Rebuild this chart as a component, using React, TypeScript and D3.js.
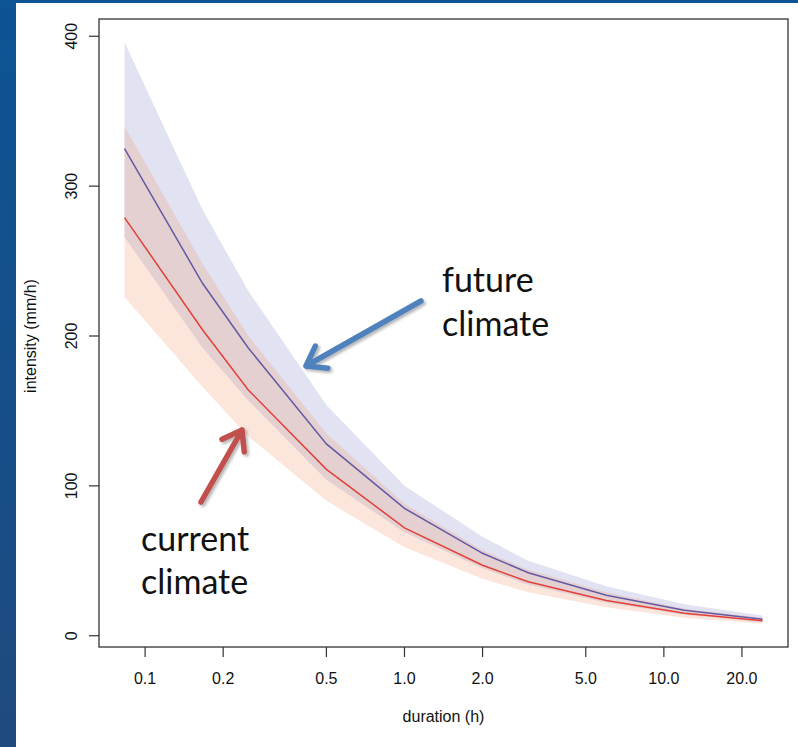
import React from 'react';
import * as d3 from 'd3';

// durations in hours (5 min ... 24 h)
const durations = [0.0833, 0.1667, 0.25, 0.5, 1, 2, 3, 6, 12, 24];

// future climate (blue)
const futureMean = [325, 235, 192, 128, 85, 55, 42, 27, 17, 11];
const futureUpper = [396, 284, 230, 154, 100, 66, 50, 33, 21, 13.5];
const futureLower = [266, 192, 157, 104, 69, 45, 34, 22, 14, 9];

// current climate (red)
const currentMean = [279, 204, 164, 111, 72, 47, 36, 23.5, 15, 10];
const currentUpper = [340, 248, 200, 135, 88, 57, 44, 29, 18, 12];
const currentLower = [226, 166, 133, 90, 59, 38, 29, 19, 12, 8];

const xTicks = [0.1, 0.2, 0.5, 1, 2, 5, 10, 20];
const xTickLabels = ['0.1', '0.2', '0.5', '1.0', '2.0', '5.0', '10.0', '20.0'];
const yTicks = [0, 100, 200, 300, 400];

const W = 798, H = 747;
const box = {left: 99, right: 788, top: 19, bottom: 647};
const axisFont = '"Liberation Sans", Arial, sans-serif';
const noteFont = 'Lato, "Open Sans", sans-serif';

// R style 4% padding on both axes
const logExt = d3.extent(durations.map(Math.log10)) as [number, number];
const lpad = (logExt[1] - logExt[0]) * 0.04;
const x = d3.scaleLog()
  .domain([Math.pow(10, logExt[0] - lpad), Math.pow(10, logExt[1] + lpad)])
  .range([box.left, box.right]);

const yMin = d3.min(currentLower.concat(futureLower)) as number;
const yMax = d3.max(futureUpper.concat(currentUpper)) as number;
const ypad = (yMax - yMin) * 0.04;
const y = d3.scaleLinear()
  .domain([yMin - ypad, yMax + ypad])
  .range([box.bottom, box.top]);

const band = (lo: number[], hi: number[]) =>
  d3.area<number>()
    .x((d, i) => x(durations[i]))
    .y0((d, i) => y(lo[i]))
    .y1((d, i) => y(hi[i]))(durations) as string;

const line = (vals: number[]) =>
  d3.line<number>()
    .x((d, i) => x(durations[i]))
    .y((d) => y(d))(vals) as string;

// open arrow drawn from tail to tip
function Arrow({x1, y1, x2, y2, color}: {x1: number, y1: number, x2: number, y2: number, color: string}) {
  const ang = Math.atan2(y2 - y1, x2 - x1);
  const len = 22, spread = 0.62;
  const b1 = [x2 - len * Math.cos(ang - spread), y2 - len * Math.sin(ang - spread)];
  const b2 = [x2 - len * Math.cos(ang + spread), y2 - len * Math.sin(ang + spread)];
  return (
    <g stroke={color} strokeWidth={5.5} strokeLinecap="round" strokeLinejoin="round" fill="none" filter="url(#shadow)">
      <path d={`M${x1},${y1}L${x2},${y2}M${b1[0]},${b1[1]}L${x2},${y2}L${b2[0]},${b2[1]}`} />
    </g>
  );
}

export default function App() {
  return (
    <svg width={W} height={H} style={{position: 'fixed', left: 0, top: 0}}>
      <defs>
        <linearGradient id="bg" x1="0" y1="0" x2="0" y2="1">
          <stop offset="0" stopColor="#0d5494" />
          <stop offset="1" stopColor="#1f4a7f" />
        </linearGradient>
        <filter id="shadow" x="-20%" y="-20%" width="140%" height="140%">
          <feDropShadow dx="2" dy="2" stdDeviation="1.8" floodColor="#000" floodOpacity="0.3" />
        </filter>
      </defs>
      <rect width={W} height={H} fill="url(#bg)" />
      <rect x={16} y={3} width={W - 16} height={H - 3} fill="#fff" />

      <path d={band(futureLower, futureUpper)} fill="#e1e3f2" />
      <path d={band(currentLower, currentUpper)} fill="rgb(243,150,110)" fillOpacity={0.25} />
      <path d={line(futureMean)} fill="none" stroke="#6459a6" strokeWidth={1.5} />
      <path d={line(currentMean)} fill="none" stroke="#e3403a" strokeWidth={1.5} />

      <rect x={box.left} y={box.top} width={box.right - box.left} height={box.bottom - box.top}
        fill="none" stroke="#333" strokeWidth={1.3} />

      {xTicks.map((t, i) => (
        <g key={t}>
          <line x1={x(t)} x2={x(t)} y1={box.bottom} y2={box.bottom + 10} stroke="#333" strokeWidth={1.2} />
          <text x={x(t)} y={box.bottom + 37} textAnchor="middle" fontFamily={axisFont} fontSize={16} fill="#111">{xTickLabels[i]}</text>
        </g>
      ))}
      {yTicks.map((t) => (
        <g key={t}>
          <line x1={box.left - 10} x2={box.left} y1={y(t)} y2={y(t)} stroke="#333" strokeWidth={1.2} />
          <text transform={`translate(76.5,${y(t)}) rotate(-90)`} textAnchor="middle" fontFamily={axisFont} fontSize={16} fill="#111">{t}</text>
        </g>
      ))}

      <text x={(box.left + box.right) / 2} y={722} textAnchor="middle" fontFamily={axisFont} fontSize={16} fill="#111">duration (h)</text>
      <text transform={`translate(36,${(box.top + box.bottom) / 2 + 3}) rotate(-90)`} textAnchor="middle" fontFamily={axisFont} fontSize={16} fill="#111">intensity (mm/h)</text>

      <Arrow x1={421} y1={301} x2={306} y2={366} color="#4f81bd" />
      <Arrow x1={201} y1={502} x2={242} y2={430} color="#c0504d" />

      <g fontFamily={noteFont} fontSize={34} fill="#111">
        <text x={442} y={292}>future</text>
        <text x={442} y={336}>climate</text>
        <text x={141} y={551}>current</text>
        <text x={141} y={594}>climate</text>
      </g>
    </svg>
  );
}
